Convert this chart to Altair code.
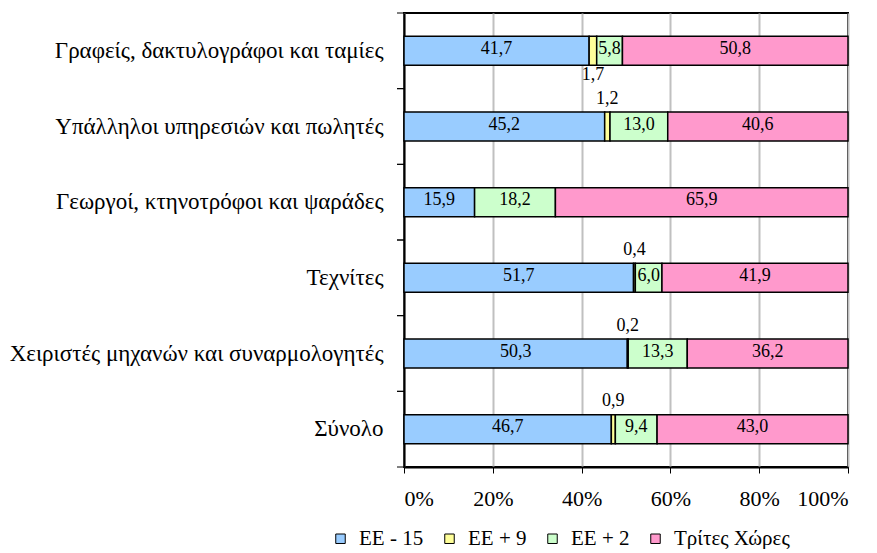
import altair as alt
import pandas as pd

categories = [
    "Γραφείς, δακτυλογράφοι και ταμίες",
    "Υπάλληλοι υπηρεσιών και πωλητές",
    "Γεωργοί, κτηνοτρόφοι και ψαράδες",
    "Τεχνίτες",
    "Χειριστές μηχανών και συναρμολογητές",
    "Σύνολο",
]
series = ["ΕΕ - 15", "ΕΕ + 9", "ΕΕ + 2", "Τρίτες Χώρες"]
colors = ["#99CCFF", "#FFFF99", "#CCFFCC", "#FF99CC"]

ee15 = [41.7, 45.2, 15.9, 51.7, 50.3, 46.7]
ee9 = [1.7, 1.2, None, 0.4, 0.2, 0.9]
ee2 = [5.8, 13.0, 18.2, 6.0, 13.3, 9.4]
third = [50.8, 40.6, 65.9, 41.9, 36.2, 43.0]
small_label_pos = ["below", "above", "none", "above", "above", "above"]

rows = []
for i, c in enumerate(categories):
    start = 0.0
    for k, (s, vals) in enumerate(zip(series, [ee15, ee9, ee2, third])):
        v = vals[i]
        if v is None:
            continue
        rows.append({
            "cat": c, "series": s, "order": k, "value": v,
            "mid": start + v / 2, "pos": small_label_pos[i],
        })
        start += v
df = pd.DataFrame(rows)

FONT = "Liberation Serif"

y_enc = alt.Y("cat:N", sort=categories, title=None,
              scale=alt.Scale(paddingInner=0, paddingOuter=0),
              axis=alt.Axis(ticks=False, labelPadding=21, minExtent=396, maxExtent=396,
                            labelLimit=420, labelFontSize=23))
x_scale = alt.Scale(domain=[0, 100], nice=False)

base = alt.Chart(df)

bars = base.mark_bar(size=29, stroke="black", strokeWidth=1.5).encode(
    y=y_enc,
    x=alt.X("value:Q", stack="zero", scale=x_scale, title=None,
            axis=alt.Axis(values=[0, 20, 40, 60, 80, 100], labelExpr="datum.value + '%'",
                          grid=True, tickSize=6, labelPadding=15, labelFontSize=22)),
    color=alt.Color("series:N", sort=series,
                    scale=alt.Scale(domain=series, range=colors),
                    legend=alt.Legend(title=None, orient="none", direction="horizontal",
                                      legendX=-74, legendY=515)),
    order=alt.Order("order:Q"),
)

label_calc = "replace(format(datum.value, '.1f'), '.', ',')"

def text_layer(flt, dy):
    return base.transform_filter(flt).transform_calculate(lab=label_calc).mark_text(
        font=FONT, fontSize=18, color="black", baseline="middle", dy=dy
    ).encode(
        y=alt.Y("cat:N", sort=categories, title=None),
        x=alt.X("mid:Q", scale=x_scale, title=None),
        text="lab:N",
    )

inside = text_layer("datum.series != 'ΕΕ + 9'", -2)
above = text_layer("datum.series == 'ΕΕ + 9' && datum.pos == 'above'", -28)
below = text_layer("datum.series == 'ΕΕ + 9' && datum.pos == 'below'", 24)

cat_df = pd.DataFrame({"cat": categories})
ticks_top = alt.Chart(cat_df).mark_rule(color="black", strokeWidth=1).encode(
    y=alt.Y("cat:N", sort=categories, bandPosition=0, title=None),
    x=alt.value(-7), x2=alt.value(0),
)
ticks_bot = alt.Chart(cat_df).mark_rule(color="black", strokeWidth=1).encode(
    y=alt.Y("cat:N", sort=categories, bandPosition=1, title=None),
    x=alt.value(-7), x2=alt.value(0),
)

chart = alt.layer(bars, inside, above, below, ticks_top, ticks_bot).properties(
    width=444, height=454,
    padding={"left": 0, "top": 4, "right": 5, "bottom": 0},
).configure_view(
    stroke="black", strokeWidth=2
).configure_axis(
    labelFont=FONT, labelColor="black",
    domainColor="black", domainWidth=2, tickColor="black", tickWidth=1,
    gridColor="#c0c0c0", gridWidth=2,
).configure_legend(
    symbolType="square", symbolSize=90, symbolStrokeColor="black", symbolStrokeWidth=1,
    labelFont=FONT, labelFontSize=21, labelColor="black", columnPadding=15, labelOffset=8,
)

chart.save("out.html", embed_options={"renderer": "svg", "actions": False})
